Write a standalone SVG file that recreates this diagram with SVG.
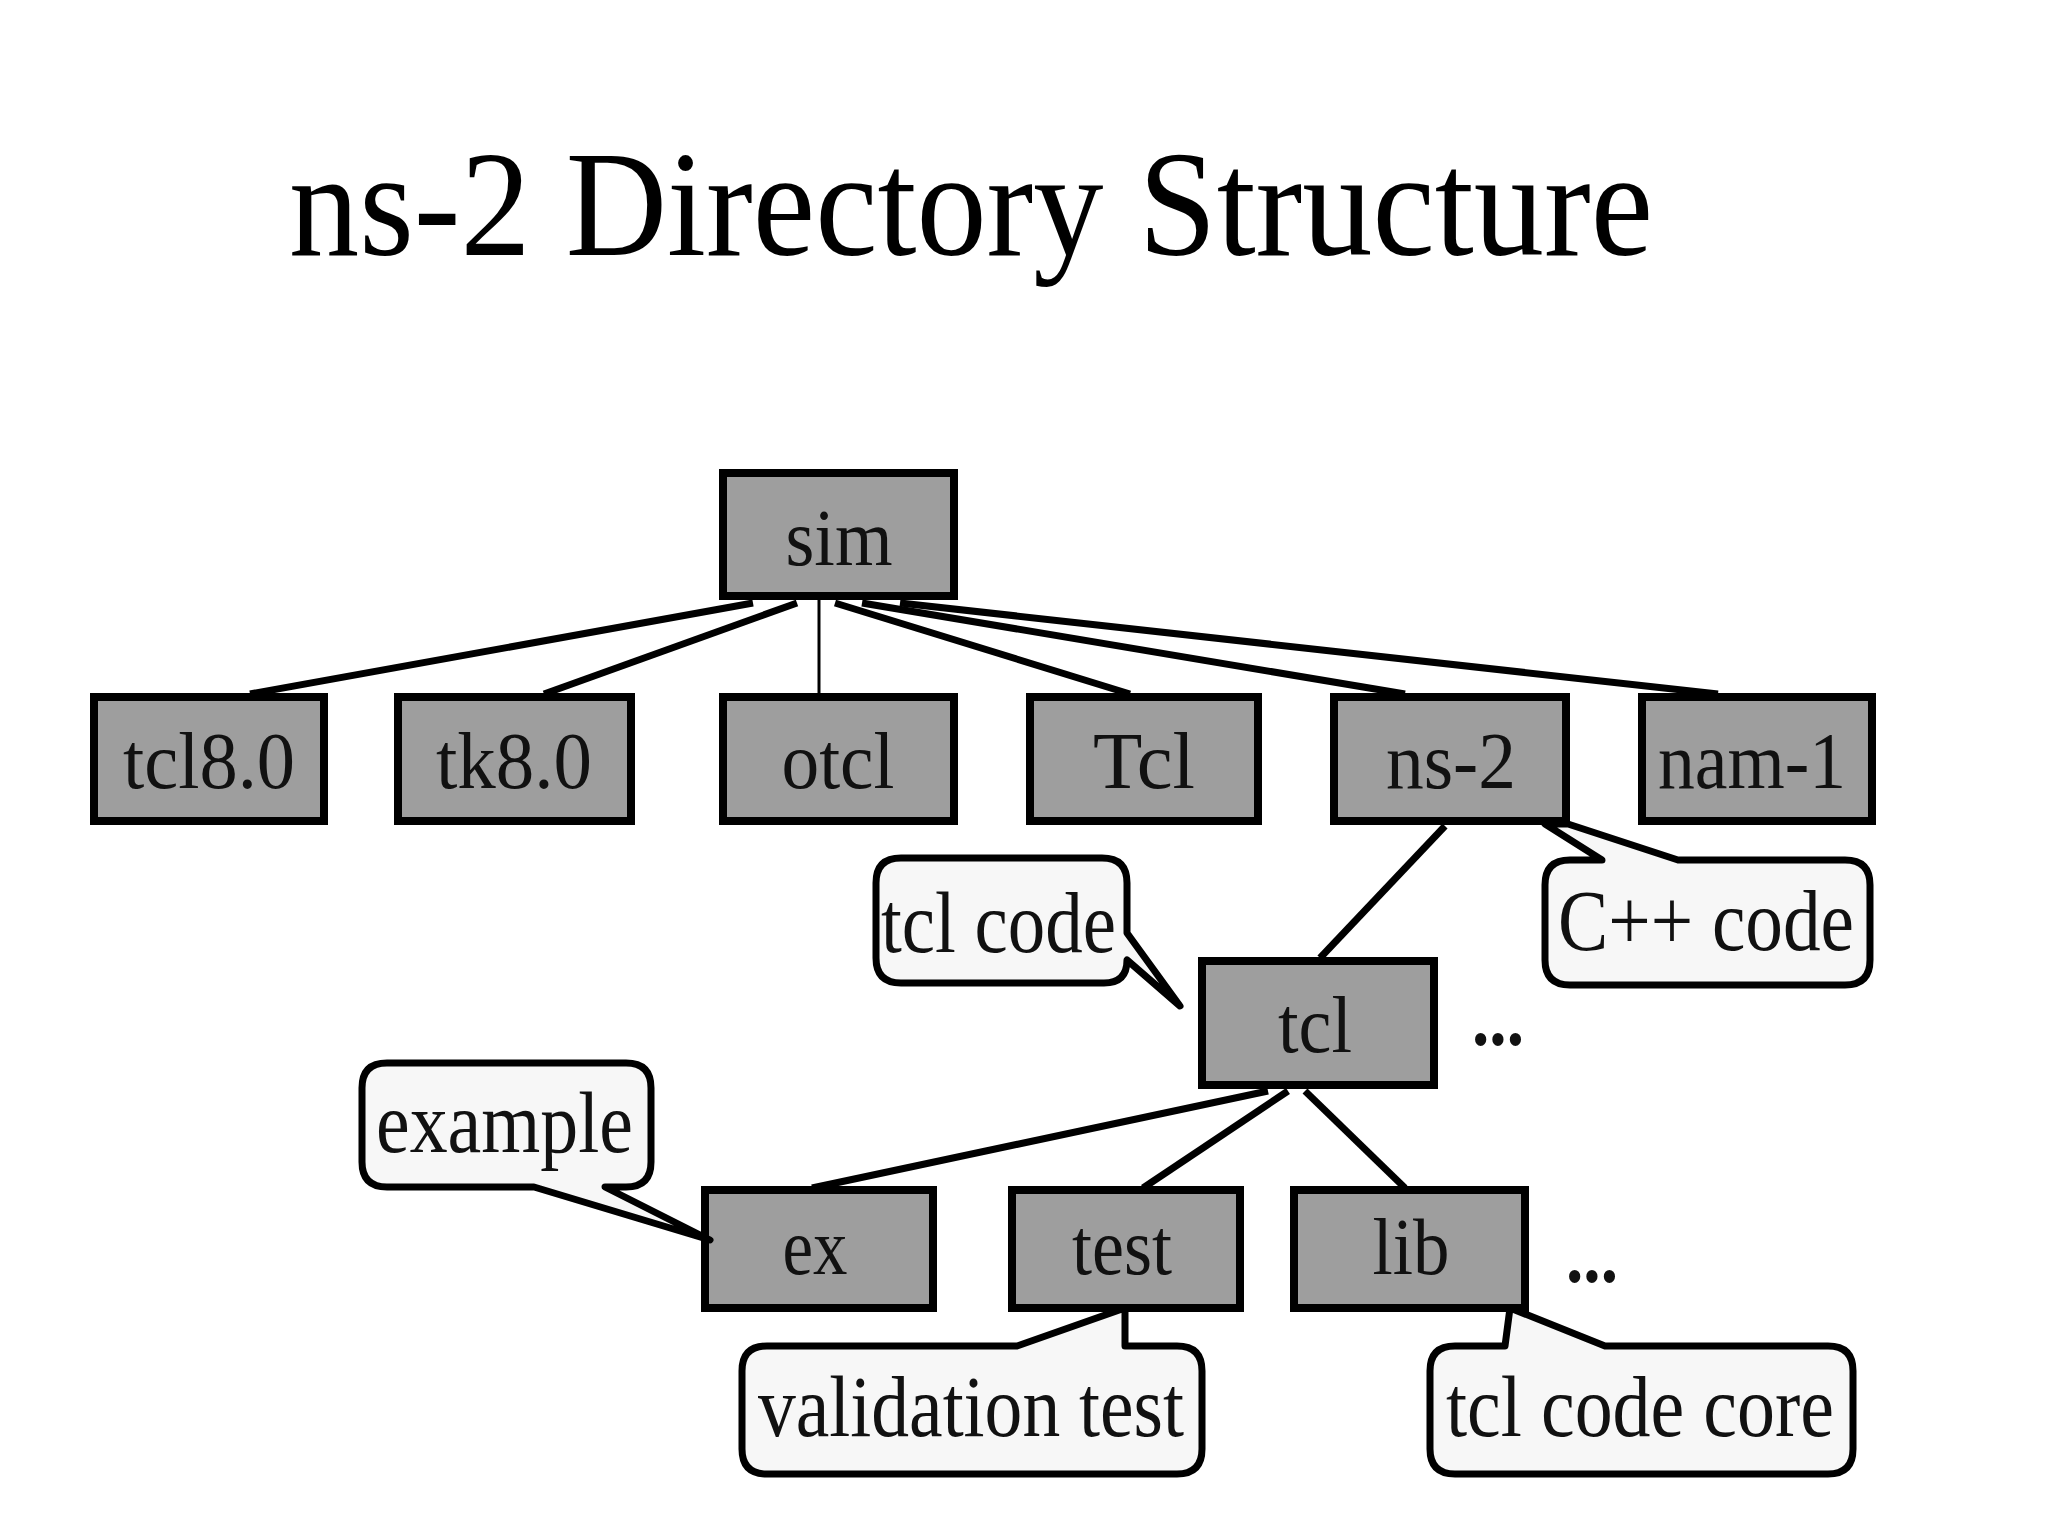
<svg xmlns="http://www.w3.org/2000/svg" width="2048" height="1536" viewBox="0 0 2048 1536">
<style>
.bg{fill:#ffffff}
.box{fill:#9e9e9e;stroke:#000;stroke-width:8}
.lbl{font-family:"Liberation Serif","Times New Roman",serif;font-size:80px;fill:#111;text-anchor:middle}
.bub{fill:#f7f7f7;stroke:#000;stroke-width:7;stroke-linejoin:round}
.btx{font-family:"Liberation Serif","Times New Roman",serif;font-size:86px;fill:#111}
.title{font-family:"Liberation Serif","Times New Roman",serif;font-size:150px;fill:#000}
.con{stroke:#000;stroke-width:7;fill:none}
.thin{stroke:#000;stroke-width:3;fill:none}
.dots{font-family:"Liberation Serif","Times New Roman",serif;font-size:80px;font-weight:bold;fill:#111}
</style>
<rect class="bg" x="0" y="0" width="2048" height="1536"/>
<text class="title" x="289" y="255" textLength="1364" lengthAdjust="spacingAndGlyphs">ns-2 Directory Structure</text>

<g id="connectors">
<line class="con" x1="753" y1="603" x2="250" y2="694"/>
<line class="con" x1="797" y1="603" x2="544" y2="694"/>
<line class="thin" x1="819" y1="600" x2="819" y2="694"/>
<line class="con" x1="835" y1="603" x2="1130" y2="694"/>
<line class="con" x1="862" y1="603" x2="1405" y2="694"/>
<line class="con" x1="900" y1="603" x2="1718" y2="694"/>
<line class="con" x1="1445" y1="826" x2="1320" y2="958"/>
<line class="con" x1="1268" y1="1091" x2="812" y2="1188"/>
<line class="con" x1="1288" y1="1091" x2="1143" y2="1188"/>
<line class="con" x1="1305" y1="1091" x2="1405" y2="1188"/>
</g>

<g id="sim"><rect class="box" x="723" y="473" width="231" height="123"/><text class="lbl" x="839" y="565" textLength="107" lengthAdjust="spacingAndGlyphs">sim</text></g>
<g id="tcl80"><rect class="box" x="94" y="697" width="230" height="124"/><text class="lbl" x="209" y="788" textLength="172" lengthAdjust="spacingAndGlyphs">tcl8.0</text></g>
<g id="tk80"><rect class="box" x="398" y="697" width="233" height="124"/><text class="lbl" x="514" y="788" textLength="156" lengthAdjust="spacingAndGlyphs">tk8.0</text></g>
<g id="otcl"><rect class="box" x="723" y="697" width="231" height="124"/><text class="lbl" x="838" y="788" textLength="113" lengthAdjust="spacingAndGlyphs">otcl</text></g>
<g id="Tcl"><rect class="box" x="1030" y="697" width="228" height="124"/><text class="lbl" x="1144" y="788" textLength="102" lengthAdjust="spacingAndGlyphs">Tcl</text></g>
<g id="ns2"><rect class="box" x="1334" y="697" width="232" height="124"/><text class="lbl" x="1451" y="788" textLength="130" lengthAdjust="spacingAndGlyphs">ns-2</text></g>
<g id="nam1"><rect class="box" x="1642" y="697" width="230" height="124"/><text class="lbl" x="1752" y="788" textLength="188" lengthAdjust="spacingAndGlyphs">nam-1</text></g>
<g id="tcl"><rect class="box" x="1202" y="961" width="232" height="124"/><text class="lbl" x="1315" y="1052" textLength="74" lengthAdjust="spacingAndGlyphs">tcl</text></g>
<g id="ex"><rect class="box" x="705" y="1190" width="228" height="118"/><text class="lbl" x="815" y="1274" textLength="65" lengthAdjust="spacingAndGlyphs">ex</text></g>
<g id="test"><rect class="box" x="1012" y="1190" width="228" height="118"/><text class="lbl" x="1122" y="1274" textLength="100" lengthAdjust="spacingAndGlyphs">test</text></g>
<g id="lib"><rect class="box" x="1294" y="1190" width="231" height="118"/><text class="lbl" x="1411" y="1274" textLength="77" lengthAdjust="spacingAndGlyphs">lib</text></g>

<g id="dots1"><text class="dots" x="1472" y="1045" textLength="52" lengthAdjust="spacingAndGlyphs">...</text></g>
<g id="dots2"><text class="dots" x="1566" y="1282" textLength="52" lengthAdjust="spacingAndGlyphs">...</text></g>

<g id="note-tclcode">
<path class="bub" d="M901,858 H1102 Q1127,858 1127,883 V933 L1180,1006 L1127,960 Q1127,983 1104,983 H901 Q876,983 876,958 V883 Q876,858 901,858 Z"/>
<text class="btx" x="881" y="952" textLength="235" lengthAdjust="spacingAndGlyphs">tcl code</text>
</g>
<g id="note-cpp">
<path class="bub" d="M1570,860 H1602 L1545,824 L1568,824 L1678,860 H1845 Q1870,860 1870,885 V960 Q1870,985 1845,985 H1570 Q1545,985 1545,960 V885 Q1545,860 1570,860 Z"/>
<text class="btx" x="1558" y="950" textLength="296" lengthAdjust="spacingAndGlyphs">C++ code</text>
</g>
<g id="note-example">
<path class="bub" d="M387,1063 H626 Q651,1063 651,1088 V1162 Q651,1187 626,1187 H605 L710,1240 L534,1187 H387 Q362,1187 362,1162 V1088 Q362,1063 387,1063 Z"/>
<text class="btx" x="376" y="1152" textLength="257" lengthAdjust="spacingAndGlyphs">example</text>
</g>
<g id="note-validation">
<path class="bub" d="M767,1346 H1017 L1125,1308 V1346 H1177 Q1202,1346 1202,1371 V1449 Q1202,1474 1177,1474 H767 Q742,1474 742,1449 V1371 Q742,1346 767,1346 Z"/>
<text class="btx" x="758" y="1436" textLength="426" lengthAdjust="spacingAndGlyphs">validation test</text>
</g>
<g id="note-core">
<path class="bub" d="M1455,1346 H1505 L1510,1308 L1605,1346 H1828 Q1853,1346 1853,1371 V1449 Q1853,1474 1828,1474 H1455 Q1430,1474 1430,1449 V1371 Q1430,1346 1455,1346 Z"/>
<text class="btx" x="1446" y="1436" textLength="388" lengthAdjust="spacingAndGlyphs">tcl code core</text>
</g>
</svg>
